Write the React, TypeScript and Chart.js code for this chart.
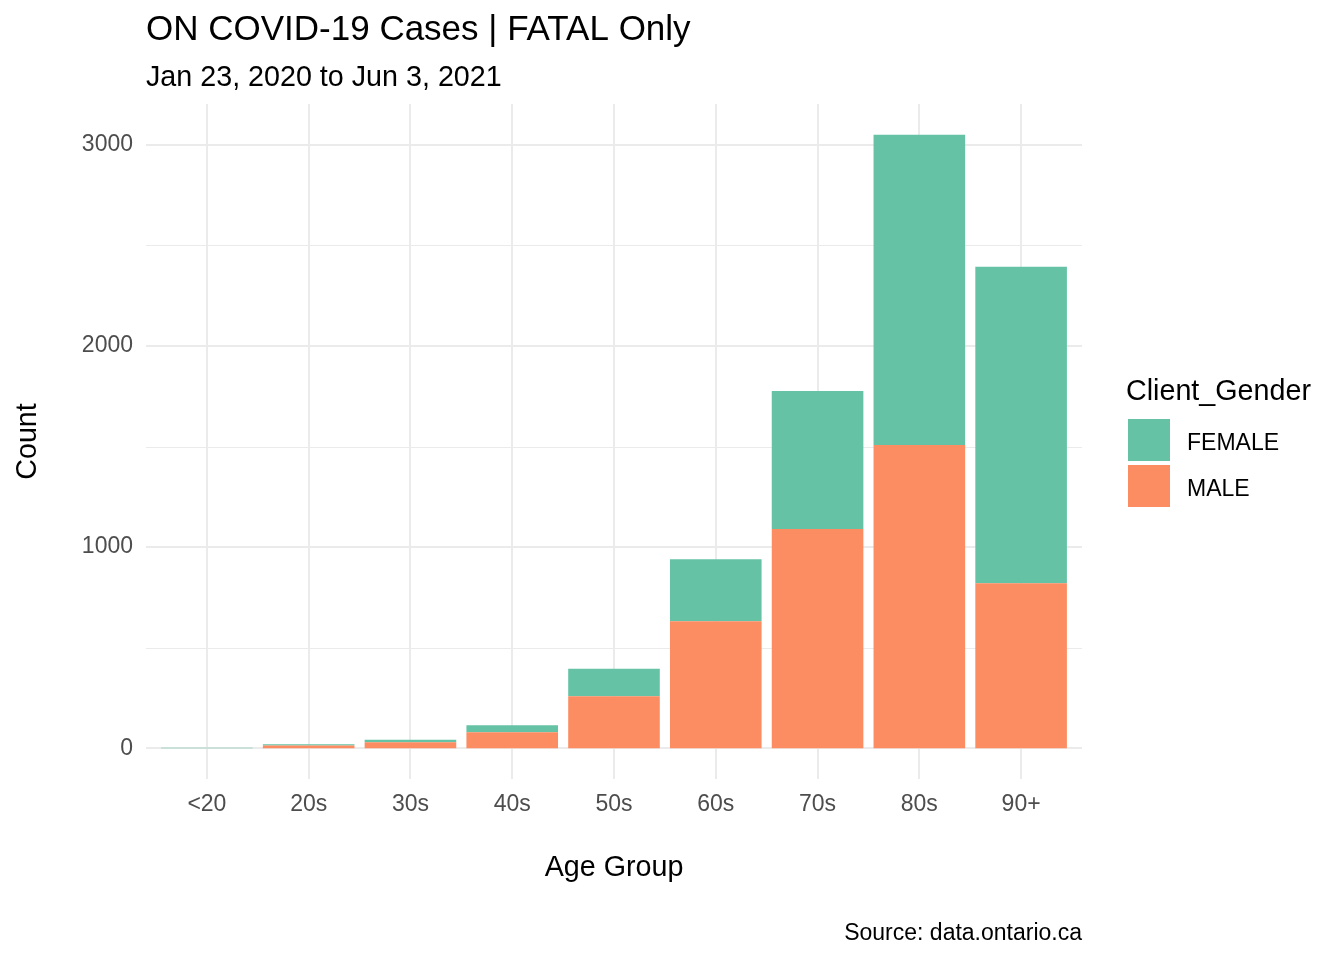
import React, { useEffect, useRef } from "react";
import { Chart, registerables } from "chart.js";

Chart.register(...registerables);

const ageGroups = ["<20", "20s", "30s", "40s", "50s", "60s", "70s", "80s", "90+"];
const maleCounts = [0, 14, 30, 80, 259, 632, 1090, 1507, 821];
const femaleCounts = [3, 6, 13, 35, 137, 308, 686, 1543, 1572];
const yMajorTicks = [0, 1000, 2000, 3000];
const yMinorTicks = [500, 1500, 2500];

const FONT = '"Liberation Sans", Arial, "DejaVu Sans", sans-serif';
const FEMALE_COLOR = "#66C2A5";
const MALE_COLOR = "#FC8D62";
const GRID = "#EBEBEB";

const decorPlugin = {
  id: "decor",
  beforeDatasetsDraw(chart: any) {
    const { ctx, chartArea, scales } = chart;
    const y = scales.y;
    const x = scales.x;
    ctx.save();
    ctx.strokeStyle = GRID;
    ctx.lineWidth = 1;
    yMinorTicks.forEach((v) => {
      const p = Math.round(y.getPixelForValue(v)) + 0.5;
      ctx.beginPath();
      ctx.moveTo(chartArea.left - 10, p);
      ctx.lineTo(chartArea.right + 10, p);
      ctx.stroke();
    });
    ctx.lineWidth = 2;
    yMajorTicks.forEach((v) => {
      const p = Math.round(y.getPixelForValue(v));
      ctx.beginPath();
      ctx.moveTo(chartArea.left - 10, p);
      ctx.lineTo(chartArea.right + 10, p);
      ctx.stroke();
    });
    ageGroups.forEach((_, i) => {
      const p = Math.round(x.getPixelForValue(i));
      ctx.beginPath();
      ctx.moveTo(p, chartArea.top);
      ctx.lineTo(p, chartArea.bottom);
      ctx.stroke();
    });
    ctx.restore();
  },
  afterDraw(chart: any) {
    const { ctx } = chart;
    ctx.save();
    ctx.fillStyle = "#000000";
    ctx.textBaseline = "alphabetic";
    ctx.textAlign = "left";
    ctx.font = `35px ${FONT}`;
    ctx.fillText("ON COVID-19 Cases | FATAL Only", 146, 40);
    ctx.font = `28.7px ${FONT}`;
    ctx.fillText("Jan 23, 2020 to Jun 3, 2021", 146, 86);

    ctx.textAlign = "center";
    ctx.fillText("Age Group", 614, 876);
    ctx.save();
    ctx.translate(36, 441.5);
    ctx.rotate(-Math.PI / 2);
    ctx.fillText("Count", 0, 0);
    ctx.restore();

    ctx.textAlign = "right";
    ctx.font = `23px ${FONT}`;
    ctx.fillText("Source: data.ontario.ca", 1082, 940);

    ctx.textAlign = "left";
    ctx.font = `28.7px ${FONT}`;
    ctx.fillText("Client_Gender", 1126, 400);
    ctx.fillStyle = FEMALE_COLOR;
    ctx.fillRect(1128, 419, 42, 42);
    ctx.fillStyle = MALE_COLOR;
    ctx.fillRect(1128, 465, 42, 42);
    ctx.fillStyle = "#000000";
    ctx.font = `23px ${FONT}`;
    ctx.fillText("FEMALE", 1187, 450);
    ctx.fillText("MALE", 1187, 496);
    ctx.restore();
  },
};

export default function App() {
  const canvasRef = useRef<HTMLCanvasElement | null>(null);

  useEffect(() => {
    if (!canvasRef.current) return;
    const chart = new Chart(canvasRef.current, {
      type: "bar",
      data: {
        labels: ageGroups,
        datasets: [
          {
            label: "MALE",
            data: maleCounts,
            backgroundColor: MALE_COLOR,
            borderWidth: 0,
            barPercentage: 0.9,
            categoryPercentage: 1.0,
          },
          {
            label: "FEMALE",
            data: femaleCounts,
            backgroundColor: FEMALE_COLOR,
            borderWidth: 0,
            barPercentage: 0.9,
            categoryPercentage: 1.0,
          },
        ],
      },
      options: {
        animation: false,
        responsive: true,
        maintainAspectRatio: false,
        devicePixelRatio: 1,
        layout: { padding: { left: 56, right: 272, top: 104, bottom: 121 } },
        plugins: {
          legend: { display: false },
          tooltip: { enabled: false },
          title: { display: false },
        },
        scales: {
          x: {
            type: "category",
            stacked: true,
            offset: true,
            grid: { display: false, drawTicks: false },
            border: { display: false },
            ticks: {
              color: "#4D4D4D",
              font: { family: FONT, size: 23 },
              padding: 12,
              maxRotation: 0,
              autoSkip: false,
            },
            afterFit(scale: any) {
              scale.height = 60;
            },
          },
          y: {
            type: "linear",
            stacked: true,
            min: -152.5,
            max: 3202.5,
            grid: { display: false, drawTicks: false },
            border: { display: false },
            ticks: {
              color: "#4D4D4D",
              font: { family: FONT, size: 23 },
              padding: 23,
              callback: (v: any) => String(v),
            },
            afterBuildTicks(scale: any) {
              scale.ticks = yMajorTicks.map((v) => ({ value: v }));
            },
            afterFit(scale: any) {
              scale.width = 100;
            },
          },
        },
      },
      plugins: [decorPlugin],
    });
    return () => chart.destroy();
  }, []);

  return (
    <div style={{ position: "fixed", left: 0, top: 0, width: 1344, height: 960, background: "#ffffff" }}>
      <canvas ref={canvasRef} />
    </div>
  );
}
